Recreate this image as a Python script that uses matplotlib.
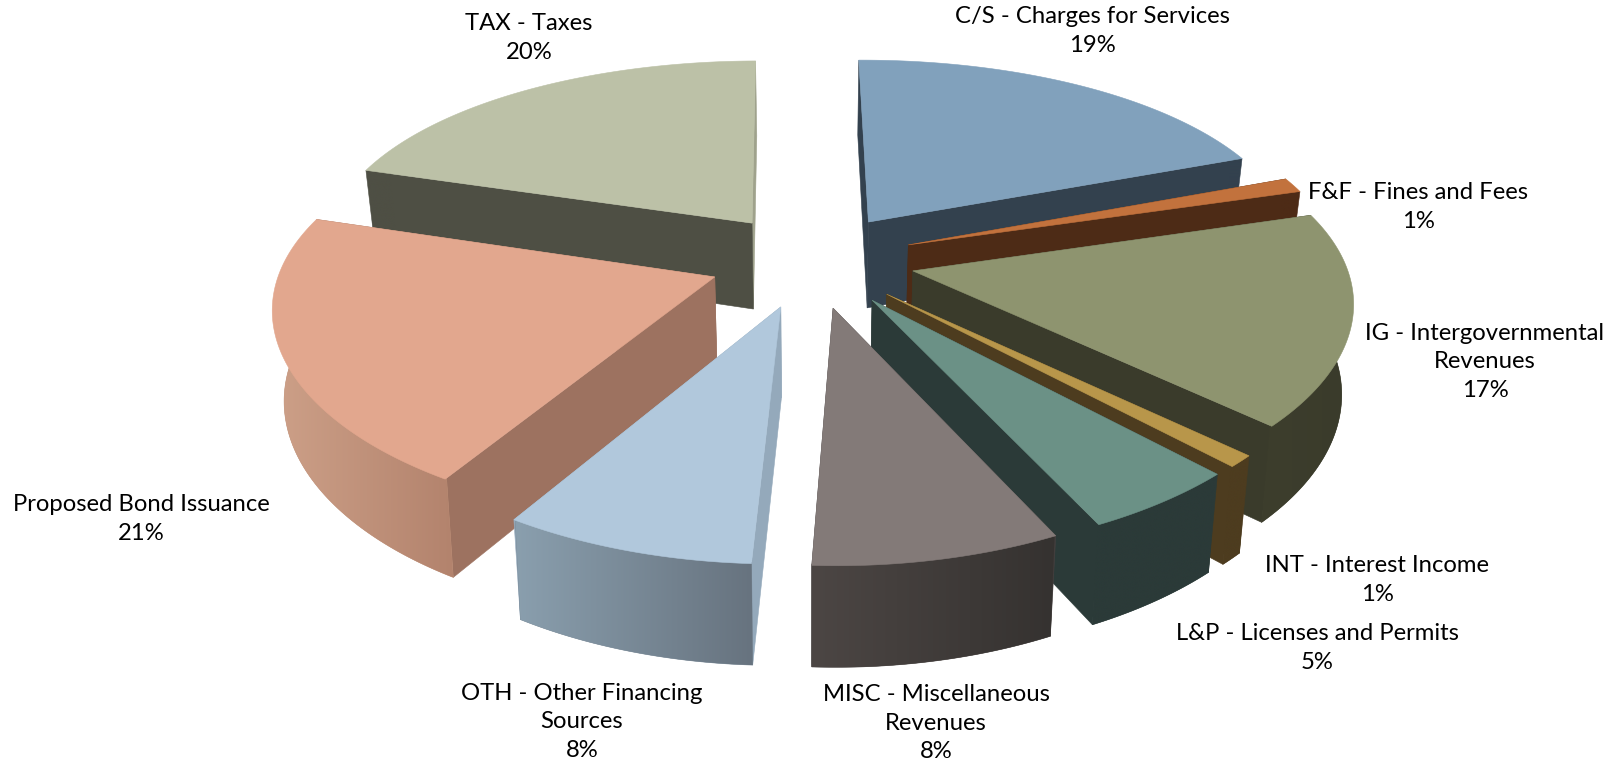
import numpy as np
import matplotlib
matplotlib.use("Agg")
import matplotlib.pyplot as plt
from matplotlib.colors import to_rgb
from matplotlib.patches import Polygon

# ---- data ----
categories = ["C/S - Charges for Services", "F&F - Fines and Fees",
              "IG - Intergovernmental\nRevenues", "INT - Interest Income",
              "L&P - Licenses and Permits", "MISC - Miscellaneous\nRevenues",
              "OTH - Other Financing\nSources", "Proposed Bond Issuance", "TAX - Taxes"]
values = [19.3, 1.2, 16.6, 0.9, 5.0, 7.9, 8.0, 21.0, 20.1]

# ---- styles ----
top_colors = ["#81a1bc", "#c2723d", "#8e946f", "#b8964a", "#6b9186", "#837a78", "#b1c8dc", "#e2a78e", "#bcc1a7"]
wall_colors = ["#33414e", "#4d2b16", "#3a3b2b", "#4d3c1f", "#2b3a38", "#454040", "#94a9bb", "#9d7260", "#4e4f44"]
end_colors = ["#33414e", "#4d2b16", "#3a3b2b", "#4d3c1f", "#2b3a38", "#454040", "#94a9bb", "#9d7260", "#9fa28c"]
rim_left = ["#33414e", "#4d2b16", "#3d3e2d", "#4d3c1f", "#2b3a38", "#4c4644", "#8a9fae", "#cda088", "#4e4f44"]
rim_right = ["#33414e", "#4d2b16", "#3a3b2b", "#4d3c1f", "#2b3a38", "#353230", "#67737f", "#b3836d", "#4e4f44"]
draw_order = [8, 0, 1, 2, 3, 4, 7, 6, 5]
label_xy = [(1092, 31), (1418, 207), (1485, 362), (1377, 580), (1317, 648),
            (936, 723), (582, 722), (141, 519), (529, 38)]

# ---- projection of the tilted pie ----
CX, CY = 812.0, 260.0
A, B = 432.0, 199.0
PERSP_X, PERSP_Y = 0.13, 0.16
EXPLODE = 0.238
CONVERGE = 0.022
ROTATION = np.radians(-0.5)


def project(x, y):
    return CX + A * x / (1 - PERSP_X * y), CY + B * y / (1 - PERSP_Y * y)


def project_low(x, y):
    px, py = project(x, y)
    return px - CONVERGE * (px - CX), py + 88 + 11 * y


def fill(ax, xy, color, z):
    p = Polygon(xy, closed=True, facecolor=color, edgecolor=color, linewidth=0.4, zorder=z)
    ax.add_patch(p)
    return p


fig = plt.figure(figsize=(16.24, 7.63), dpi=100)
ax = fig.add_axes([0, 0, 1, 1])
ax.axis("off")

fractions = np.asarray(values, dtype=float) / np.sum(values)
edges = np.concatenate([[0], np.cumsum(fractions)]) * 2 * np.pi + ROTATION

for rank, i in enumerate(draw_order):
    t0, t1 = edges[i], edges[i + 1]
    mid = (t0 + t1) / 2
    ox, oy = EXPLODE * np.sin(mid), -EXPLODE * np.cos(mid)
    th = np.linspace(t0, t1, max(12, int((t1 - t0) * 120)))
    rx, ry = ox + np.sin(th), oy - np.cos(th)
    z = rank * 10 + 1

    tx, ty = project(rx, ry)
    lx, ly = project_low(rx, ry)
    ax0, ay0 = project(ox, oy)
    bx0, by0 = project_low(ox, oy)

    # radial walls
    fill(ax, [(ax0, ay0), (tx[-1], ty[-1]), (lx[-1], ly[-1]), (bx0, by0)], end_colors[i], z)
    fill(ax, [(ax0, ay0), (tx[0], ty[0]), (lx[0], ly[0]), (bx0, by0)], wall_colors[i], z + 1)

    # curved rim: only the part that faces the viewer, shaded left to right
    front = np.cos(th) < 0.4
    if front.sum() >= 2:
        ix, iy = ax0 + (tx - ax0) * 0.995, ay0 + (ty - ay0) * 0.995
        xy = np.vstack([np.column_stack([ix[front], iy[front]]),
                        np.column_stack([lx[front], ly[front]])[::-1]])
        c_l, c_r = np.array(to_rgb(rim_left[i])), np.array(to_rgb(rim_right[i]))
        fill(ax, xy, tuple((c_l + c_r) / 2), z + 2)
        grad = np.linspace(c_l, c_r, 256)[None, :, :]
        clip = Polygon(xy, closed=True, transform=ax.transData)
        im = ax.imshow(grad, extent=(xy[:, 0].min(), xy[:, 0].max(), xy[:, 1].max(), xy[:, 1].min()),
                       aspect="auto", interpolation="bilinear", zorder=z + 2.5)
        im.set_clip_path(clip)

    # top face
    fill(ax, np.vstack([[ax0, ay0], np.column_stack([tx, ty])]), top_colors[i], z + 3)

for name, v, (x, y) in zip(categories, values, label_xy):
    ax.text(x, y, f"{name}\n{v:.0f}%", ha="center", va="center", fontsize=17.2,
            family="Lato", color="black", linespacing=1.46, zorder=200)

ax.set_xlim(0, 1624)
ax.set_ylim(763, 0)
fig.savefig("out.png", dpi=100, facecolor="white")
